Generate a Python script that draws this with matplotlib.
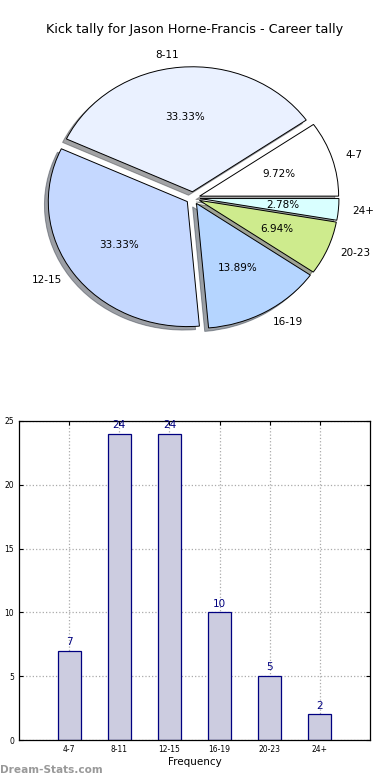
import matplotlib
matplotlib.use("Agg")
import matplotlib.pyplot as plt

labels = ["4-7", "8-11", "12-15", "16-19", "20-23", "24+"]
counts = [7, 24, 24, 10, 5, 2]
pie_colors = ["#FFFFFF", "#EAF1FF", "#C5D8FF", "#B5D5FF", "#CEEB8D", "#D9FFFF"]
explode = [0.05, 0.05, 0.05, 0.05, 0.05, 0.05]

fig = plt.figure(figsize=(3.9, 7.8), dpi=100)

# pie (old style: not forced circular)
ax1 = fig.add_axes([0, 385 / 780, 1, 390 / 780])
ax1.pie(counts, labels=labels, colors=pie_colors, explode=explode,
        autopct="%1.2f%%", shadow=True, startangle=0,
        wedgeprops=dict(edgecolor="black", linewidth=0.7),
        textprops=dict(fontsize=7.5))
ax1.set_aspect("auto")
ax1.set_xlim(-193 / 139, 197 / 139)
ax1.set_ylim(-(395 - 198) / 125, (198 - 5) / 125)
fig.text(0.5, 1 - 30 / 780, "Kick tally for Jason Horne-Francis - Career tally",
         ha="center", va="center", fontsize=9.2)

# bar chart
ax2 = fig.add_axes([19 / 390, 40 / 780, 351 / 390, 319 / 780])
x = list(range(len(labels)))
ax2.bar(x, counts, width=0.46, color="#CCCCE0", edgecolor="navy", linewidth=0.9, zorder=2)
for xi, c in zip(x, counts):
    ax2.text(xi, c + 0.3, str(c), ha="center", va="bottom", color="navy", fontsize=7.5, zorder=3)
ax2.set_xlim(-1, 6)
ax2.set_ylim(0, 25)
ax2.set_xticks(x)
ax2.set_xticklabels(labels)
ax2.set_yticks([0, 5, 10, 15, 20, 25])
ax2.tick_params(axis="both", labelsize=5.5, direction="in", length=3, top=True, right=True)
ax2.grid(True, linestyle=":", color="#AAAAAA", linewidth=0.9, zorder=0)
ax2.set_xlabel("Frequency", fontsize=7.5, labelpad=2)
ax2.set_ylabel("Stat Instances", fontsize=7.5, labelpad=8)
for s in ax2.spines.values():
    s.set_linewidth(0.9)

fig.text(0.0, 1 - 770 / 780, "Dream-Stats.com", ha="left", va="center",
         fontsize=7.6, color="#999999", fontweight="bold")

fig.savefig("out.png", dpi=100)
